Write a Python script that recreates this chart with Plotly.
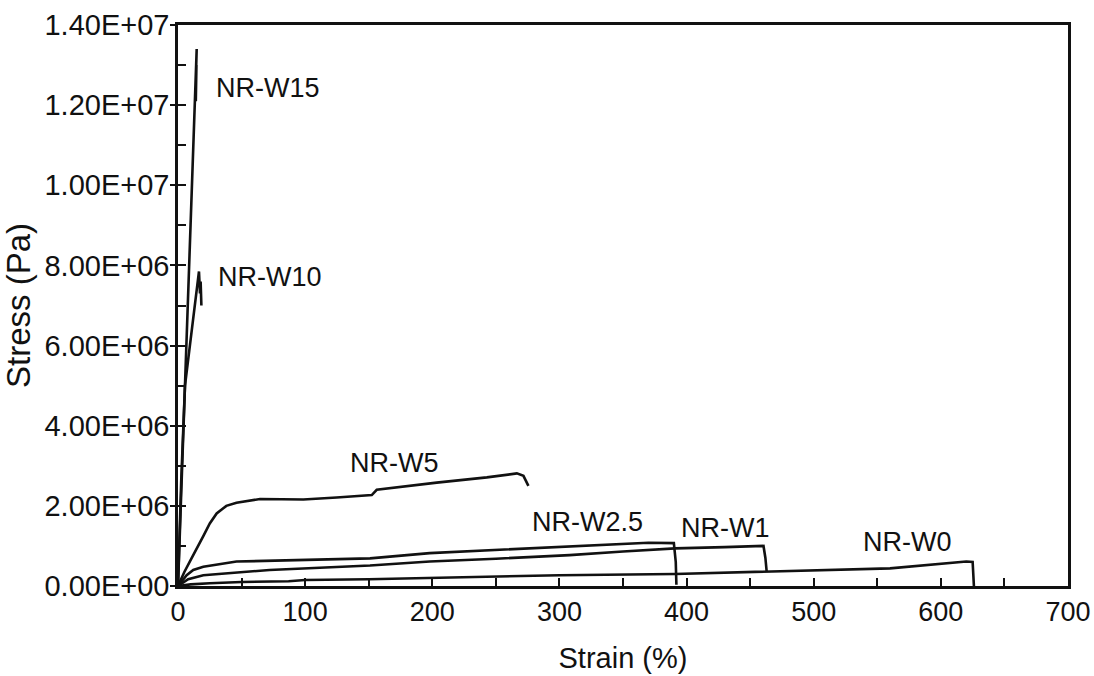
import plotly.graph_objects as go

# ---- data (strain %, stress in units of 1e6 Pa) ----
w15_strain = [0, 3, 5.5, 7, 10.5, 14.7, 13.7, 14.5, 14.0]
w15_stress = [0, 2.8, 5.0, 6.4, 9.6, 13.4, 12.3, 13.0, 12.1]

w10_strain = [0, 2.5, 5.5, 10, 16.5, 17.3, 17.8, 18.4]
w10_stress = [0, 2.6, 5.0, 6.2, 7.85, 7.3, 7.6, 7.0]

w5_strain = [0, 5, 10, 14.7, 20, 25, 30.4, 38, 46, 64.5, 98.6, 124.8, 152.4, 156.3, 203.5, 242.9, 266.5, 271.7, 275.6]
w5_stress = [0, 0.35, 0.65, 0.95, 1.25, 1.56, 1.81, 2.0, 2.08, 2.17, 2.16, 2.21, 2.27, 2.40, 2.58, 2.71, 2.81, 2.75, 2.5]

w25_strain = [0, 6.8, 12, 19.9, 46, 98.6, 151, 198, 250, 308, 340, 370, 390, 391.5, 392]
w25_stress = [0, 0.27, 0.4, 0.48, 0.61, 0.65, 0.69, 0.82, 0.9, 1.0, 1.05, 1.08, 1.07, 0.6, 0.03]

w1_strain = [0, 8, 19.9, 72, 151, 198, 250, 308, 350, 391, 430, 460.5, 462, 463]
w1_stress = [0, 0.17, 0.27, 0.4, 0.51, 0.61, 0.68, 0.77, 0.86, 0.94, 0.97, 1.0, 0.7, 0.36]

w0_strain = [0, 10, 25, 50, 87, 100, 150, 200, 300, 391, 463, 560, 620, 625, 626]
w0_stress = [0, 0.04, 0.07, 0.1, 0.12, 0.15, 0.17, 0.2, 0.27, 0.3, 0.36, 0.44, 0.61, 0.6, 0.0]

series_names = ["NR-W15", "NR-W10", "NR-W5", "NR-W2.5", "NR-W1", "NR-W0"]
label_x = [71, 72, 170, 322, 431, 574]
label_y = [12.43, 7.71, 3.08, 1.60, 1.44, 1.09]

y_tick_vals = [0, 2, 4, 6, 8, 10, 12, 14]
y_tick_text = ["0.00E+00", "2.00E+06", "4.00E+06", "6.00E+06", "8.00E+06",
               "1.00E+07", "1.20E+07", "1.40E+07"]
x_tick_vals = [0, 100, 200, 300, 400, 500, 600, 700]

SCALE = 1e6
FONT = "Liberation Sans, Arial, Helvetica, sans-serif"
INK = "#111111"

fig = go.Figure()
all_series = [
    (w15_strain, w15_stress), (w10_strain, w10_stress), (w5_strain, w5_stress),
    (w25_strain, w25_stress), (w1_strain, w1_stress), (w0_strain, w0_stress),
]
for name, (xs, ys) in zip(series_names, all_series):
    fig.add_trace(go.Scatter(
        x=xs, y=[v * SCALE for v in ys], mode="lines", name=name,
        line=dict(color=INK, width=2.6), showlegend=False,
    ))

# invisible trace so the overlay tick axis gets drawn
fig.add_trace(go.Scatter(x=[None], y=[None], yaxis="y2", mode="lines",
                         showlegend=False, hoverinfo="skip"))

for name, lx, ly in zip(series_names, label_x, label_y):
    fig.add_annotation(x=lx, y=ly * SCALE, text=name, showarrow=False,
                       font=dict(family=FONT, size=27, color=INK),
                       xanchor="center", yanchor="middle")

yrange = [0, 14 * SCALE]
fig.update_layout(
    width=1094, height=676,
    margin=dict(l=178, r=26, t=25, b=90, autoexpand=False),
    paper_bgcolor="white", plot_bgcolor="white",
    font=dict(family=FONT, color=INK),
    xaxis=dict(
        range=[0, 700], tickvals=x_tick_vals, ticks="inside", ticklen=8,
        tickwidth=2, tickcolor=INK, automargin=False,
        minor=dict(dtick=50, tick0=0, ticks="inside", ticklen=8, tickwidth=2, tickcolor=INK),
        showline=True, linecolor=INK, linewidth=2.5, mirror=True,
        showgrid=False, zeroline=False,
        tickfont=dict(family=FONT, size=27, color=INK),
        title=dict(text="Strain (%)", font=dict(family=FONT, size=29, color=INK), standoff=22),
    ),
    yaxis=dict(
        range=yrange, tickvals=[v * SCALE for v in y_tick_vals], ticktext=y_tick_text,
        ticks="inside", ticklen=8, tickwidth=2, tickcolor=INK, automargin=False,
        minor=dict(dtick=SCALE, tick0=0, ticks="inside", ticklen=8, tickwidth=2, tickcolor=INK),
        showline=True, linecolor=INK, linewidth=2.5, mirror=True,
        showgrid=False, zeroline=False,
        tickfont=dict(family=FONT, size=29, color=INK),
        title=dict(text="Stress (Pa)", font=dict(family=FONT, size=33, color=INK), standoff=7),
    ),
    yaxis2=dict(
        range=yrange, overlaying="y", side="left", anchor="x", automargin=False,
        tickvals=[v * SCALE for v in y_tick_vals], ticks="outside", ticklen=7,
        tickwidth=2, tickcolor=INK, showticklabels=False, showline=False,
        showgrid=False, zeroline=False,
    ),
)

fig.write_html("out.html", config={"displayModeBar": False},
               post_script="document.body.style.margin='0';")
